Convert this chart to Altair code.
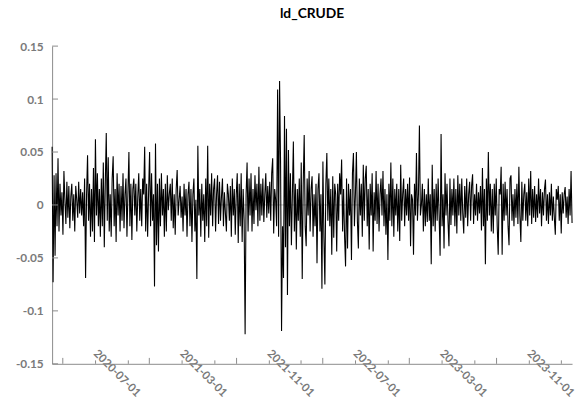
import altair as alt
import pandas as pd

# log-difference of crude price (roughly one value per pixel column)
ld_part1 = [
    0.055, -0.073, 0.028, -0.048, 0.030, -0.020, 0.044, -0.025, 0.020, -0.010,
    0.012, -0.028, 0.032, 0.005, -0.018, 0.022, -0.012, 0.018, -0.022, 0.008,
    0.020, -0.015, 0.010, -0.025, 0.018, 0.005, -0.012, 0.022, -0.008, 0.015,
    -0.010, 0.012, -0.020, 0.025, -0.069, 0.010, 0.047, -0.015, 0.020, -0.030,
    0.015, -0.025, 0.035, -0.035, 0.062, -0.010, 0.030, -0.020, 0.015, -0.030,
    0.025, -0.020, 0.040, -0.040, 0.020, 0.068, -0.015, 0.045, -0.025, 0.010,
    -0.030, 0.025, 0.046, -0.020, 0.015, -0.035, 0.030, -0.010, 0.020, -0.025,
    0.018, -0.015, 0.030, -0.022, 0.010, 0.025, -0.030, 0.012, 0.050, -0.020,
    0.020, -0.033, 0.015, 0.025, -0.010, 0.020, -0.025, 0.008, 0.030, -0.015,
    0.015, -0.020, 0.025, 0.010, 0.055, -0.025, 0.020, -0.030, 0.012, 0.050,
    -0.020, 0.030, -0.015, 0.010, -0.077, 0.058, -0.038, 0.020, -0.044, 0.025,
    -0.020, 0.030, -0.010, 0.015, -0.030, 0.020, -0.025, 0.028, -0.005, 0.010,
    0.020, -0.015, 0.025, -0.022, 0.010, -0.028, 0.015, 0.033, -0.010, 0.005,
]
ld_part2 = [
    0.018, -0.012, 0.008, -0.025, 0.020, -0.010, 0.015, -0.030, 0.010, 0.022,
    -0.020, 0.015, -0.035, 0.010, 0.025, -0.025, 0.005, -0.070, 0.056, -0.010,
    0.015, -0.030, 0.020, -0.015, 0.010, -0.035, 0.025, -0.020, 0.056, -0.031,
    0.020, -0.010, 0.030, -0.020, 0.015, 0.025, -0.025, 0.010, 0.028, -0.018,
    0.022, -0.015, 0.008, 0.025, -0.020, 0.012, -0.008, -0.025, 0.020, 0.010,
    -0.015, 0.018, -0.030, 0.025, -0.010, 0.015, -0.028, 0.010, 0.030, -0.036,
    0.020, -0.020, 0.030, -0.035, 0.015, -0.015, -0.122, 0.010, 0.040, -0.025,
    0.025, -0.010, 0.030, -0.025, 0.015, -0.018, 0.028, -0.005, 0.020, -0.020,
    0.036, -0.015, 0.020, -0.010, 0.025, -0.016, 0.010, 0.030, -0.012, 0.018,
    -0.008, 0.022, -0.015, 0.030, 0.044, -0.027, 0.015, 0.005, -0.020, 0.109,
    -0.030, 0.117, 0.040, -0.119, -0.020, -0.069, 0.084, -0.040, 0.072, -0.085,
    0.052, -0.020, 0.030, -0.038, 0.010, 0.060, -0.025, 0.020, -0.042, 0.015,
    -0.015, 0.025, -0.030, 0.040, -0.070, 0.020, 0.066, -0.020, -0.039, 0.025,
]
ld_part3 = [
    -0.010, 0.032, -0.025, 0.015, 0.027, -0.030, 0.010, -0.020, 0.020, -0.055,
    0.015, 0.030, -0.025, 0.010, -0.079, 0.041, -0.030, -0.075, 0.020, 0.049,
    -0.015, 0.025, -0.020, 0.015, -0.047, 0.027, -0.031, 0.020, 0.010, -0.044,
    0.020, -0.015, 0.030, 0.010, 0.043, -0.025, 0.015, -0.030, -0.058, 0.025,
    -0.041, 0.020, -0.010, 0.015, -0.052, 0.030, 0.049, -0.020, 0.010, 0.050,
    -0.015, -0.041, 0.025, -0.010, 0.020, -0.030, 0.038, -0.015, 0.025, 0.037,
    -0.020, 0.015, -0.042, 0.020, -0.010, 0.030, -0.044, 0.012, -0.015, 0.032,
    -0.018, 0.020, -0.025, 0.010, 0.025, -0.010, 0.032, -0.020, 0.015, -0.028,
    0.010, -0.052, 0.020, -0.015, 0.040, -0.020, 0.025, -0.030, 0.015, -0.010,
    0.020, -0.025, 0.015, -0.034, 0.038, -0.015, 0.010, 0.025, -0.020, 0.015,
    -0.010, 0.020, -0.015, 0.026, -0.039, 0.010, 0.005, -0.047, 0.020, -0.010,
    0.049, -0.015, 0.010, 0.075, -0.010, 0.000, 0.020, -0.025, 0.015, -0.020,
    0.010, -0.016, 0.025, -0.015, 0.010, -0.056, 0.038, -0.020, 0.015, -0.025,
]
ld_part4 = [
    0.020, -0.015, 0.025, -0.010, -0.048, 0.067, -0.020, 0.010, -0.041, 0.030,
    -0.010, 0.020, -0.015, -0.039, 0.025, -0.019, 0.015, -0.010, 0.025, -0.020,
    0.015, -0.027, 0.028, -0.010, 0.020, -0.015, 0.025, -0.008, -0.027, 0.018,
    -0.012, 0.025, -0.020, 0.010, 0.022, -0.015, 0.018, 0.029, -0.018, 0.010,
    -0.010, 0.020, -0.015, 0.012, -0.008, 0.018, -0.024, 0.035, -0.020, 0.015,
    -0.056, 0.025, -0.015, 0.050, -0.010, 0.020, -0.025, 0.015, -0.027, 0.020,
    -0.010, 0.025, -0.020, -0.047, 0.015, 0.010, 0.036, -0.047, 0.020, -0.015,
    0.022, -0.010, 0.015, -0.020, -0.038, 0.025, 0.028, -0.015, 0.010, -0.020,
    0.015, -0.012, 0.020, -0.018, 0.036, -0.010, -0.035, 0.022, -0.015, 0.010,
    0.020, -0.015, 0.012, -0.020, 0.025, -0.010, 0.032, -0.018, 0.015, -0.012,
    0.018, -0.016, 0.010, -0.012, 0.025, -0.008, 0.015, -0.020, 0.012, -0.010,
    0.015, 0.024, -0.015, 0.010, -0.018, 0.012, -0.010, 0.020, -0.015, 0.008,
    -0.012, -0.028, 0.015, 0.005, 0.018, -0.015, 0.010, -0.027, 0.012, -0.008,
    0.010, 0.017, -0.012, 0.008, -0.018, 0.015, -0.010, 0.032, -0.017,
]

start_date = "2020-06-01"
end_date = "2024-05-31"
major_ticks = ["2020-07-01", "2021-03-01", "2021-11-01", "2022-07-01", "2023-03-01", "2023-11-01"]
minor_ticks = ["2020-10-01", "2021-01-01", "2021-06-01", "2021-09-01", "2022-02-01", "2022-05-01",
               "2022-10-01", "2023-01-01", "2023-06-01", "2023-09-01", "2024-02-01", "2024-05-01"]
y_ticks = [-0.15, -0.1, -0.05, 0, 0.05, 0.1, 0.15]

values = ld_part1 + ld_part2 + ld_part3 + ld_part4
dates = pd.date_range(start_date, end_date, periods=len(values))
df = pd.DataFrame({"date": dates.strftime("%Y-%m-%dT%H:%M:%S"), "ld": values})


def dt(s):
    y, m, d = (int(p) for p in s.split("-"))
    return alt.DateTime(year=y, month=m, date=d)


W, H = 527, 322
GRAY = "#8a8a8a"
LABEL = "#7a7a7a"
FONT = "Lato"

xscale = alt.Scale(domain=[dt(start_date), dt(end_date)], nice=False)
yscale = alt.Scale(domain=[-0.15, 0.15], nice=False, zero=False)

x_axis = alt.Axis(values=[dt(d) for d in major_ticks],
                  labelExpr="timeFormat(datum.value, '%Y-%m-%d')",
                  title=None, ticks=False, tickSize=0, grid=False,
                  labelAngle=45, labelAlign="center", labelBaseline="middle",
                  labelOffset=54, labelPadding=9.5, labelFontSize=11.5,
                  labelOverlap=False, labelFlush=False, labelBound=False)
y_axis = alt.Axis(values=y_ticks, labelExpr="'' + datum.value",
                  title=None, ticks=False, tickSize=0, grid=False,
                  labelPadding=9)

zero = alt.Chart(pd.DataFrame({"z": [0]})).mark_rule(color="#9a9a9a", strokeWidth=0.7).encode(
    y=alt.Y("z:Q", scale=yscale, axis=y_axis)
)

line = alt.Chart(df).mark_line(color="black", strokeWidth=1.1).encode(
    x=alt.X("date:T", scale=xscale, axis=x_axis),
    y=alt.Y("ld:Q", scale=yscale, axis=y_axis),
)

ytick = alt.Chart(pd.DataFrame({"v": y_ticks})).mark_rule(color=GRAY, strokeWidth=1).encode(
    y=alt.Y("v:Q", scale=yscale, axis=y_axis), x=alt.value(0), x2=alt.value(6)
)
xmajor = alt.Chart(pd.DataFrame({"d": major_ticks})).mark_rule(color=GRAY, strokeWidth=1).encode(
    x=alt.X("d:T", scale=xscale, axis=x_axis), y=alt.value(H), y2=alt.value(H - 6)
)
xminor = alt.Chart(pd.DataFrame({"d": minor_ticks})).mark_rule(color=GRAY, strokeWidth=1).encode(
    x=alt.X("d:T", scale=xscale, axis=x_axis), y=alt.value(H), y2=alt.value(H - 3.5)
)

chart = alt.layer(zero, line, ytick, xmajor, xminor).properties(
    width=W, height=H,
    title=alt.Title("ld_CRUDE", fontSize=14, font=FONT, fontWeight="bold", color="black", offset=19),
    autosize=alt.AutoSizeParams(type="none"),
    padding={"left": 44.7, "top": 36, "right": 4, "bottom": 31},
).configure_view(stroke=None).configure_axis(
    domainColor=GRAY, domainWidth=1, labelColor=LABEL, labelFont=FONT,
    labelFontSize=12, labelFontWeight="bold",
)

chart.save("out.html", embed_options={"renderer": "svg", "actions": False})
